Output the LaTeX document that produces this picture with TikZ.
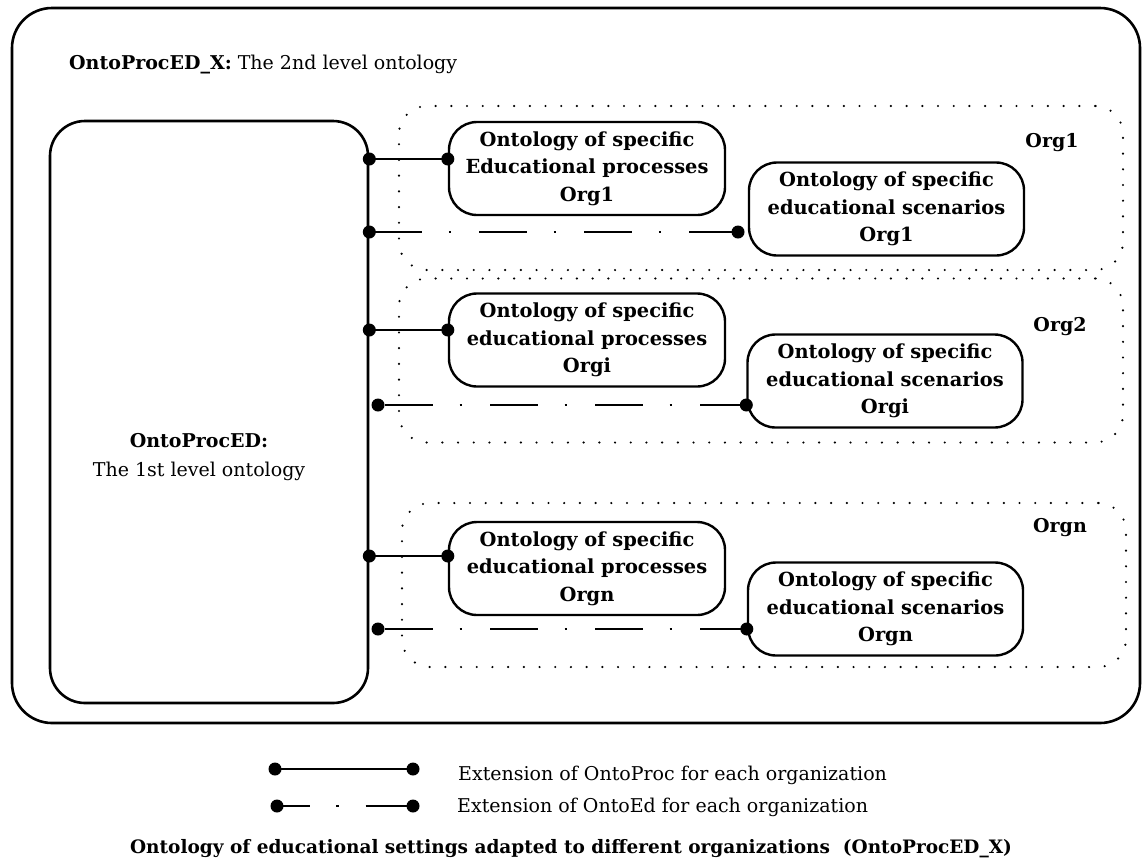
\documentclass[tikz,border=0pt]{standalone}
\usepackage{fontspec}
\setmainfont{DejaVu Serif}
\usetikzlibrary{calc}
\begin{document}
\begin{tikzpicture}[x=1pt,y=-1pt,
  frame/.style={draw, line width=2.6pt, inner sep=0pt},
  orgbox/.style={draw, line width=2.4pt, dash pattern=on 0pt off 15.7pt, line cap=round,
    rounded corners=28pt, minimum width=724pt, minimum height=164pt, inner sep=0pt},
  onbox/.style={draw, line width=2.4pt, rounded corners=28pt, minimum height=93pt,
    inner sep=0pt, align=center, font=\bfseries\fontsize{19.4}{27.5}\selectfont},
  procbox/.style={onbox, minimum width=276pt},
  scenbox/.style={onbox, minimum width=275pt},
  orglabel/.style={font=\bfseries\fontsize{19}{22}\selectfont},
  plain/.style={inner sep=0pt, font=\fontsize{19}{22}\selectfont},
  procline/.style={line width=2.8pt},
  edline/.style={line width=2.8pt, dash pattern=on 48pt off 26.5pt on 2.5pt off 28pt},
  dot/.style={fill=black},
]
\useasboundingbox (0,0) rectangle (1142,863);

% outer frame: the 2nd level ontology
\node[frame, rounded corners=40pt, minimum width=1128pt, minimum height=715pt] (outer) at (576,365.5) {};
\node[plain, anchor=west] (title) at (69,65) {\textbf{OntoProcED\_X:} The 2nd level ontology};

% the 1st level ontology
\node[frame, rounded corners=35pt, minimum width=318pt, minimum height=582pt] (onto) at (209,412) {};
\node[plain, align=center, font=\fontsize{19}{29}\selectfont] (ontotext) at (199,457) {\textbf{OntoProcED:}\\The 1st level ontology};

% organisation groups
\node[orgbox] (g1) at (761,188) {};
\node[orgbox] (g2) at (761,360.5) {};
\node[orgbox] (g3) at (764,585) {};
\node[orglabel] (o1) at (1052,143) {Org1};
\node[orglabel] (o2) at (1060,327) {Org2};
\node[orglabel] (o3) at (1060,528) {Orgn};

% specific ontologies
\node[procbox] (p1) at (587,168.5) {Ontology of specific\\Educational processes\\Org1};
\node[scenbox] (s1) at (886.5,209) {Ontology of specific\\educational scenarios\\Org1};
\node[procbox] (p2) at (587,340) {Ontology of specific\\educational processes\\Orgi};
\node[scenbox] (s2) at (885,381) {Ontology of specific\\educational scenarios\\Orgi};
\node[procbox] (p3) at (587,568.5) {Ontology of specific\\educational processes\\Orgn};
\node[scenbox] (s3) at (885.5,609) {Ontology of specific\\educational scenarios\\Orgn};

% connector end points
\coordinate (a1) at (onto.east |- 0,159);
\coordinate (b1) at (p1.west |- 0,159);
\coordinate (c1) at (738,232);
\coordinate (d1) at (onto.east |- c1);
\coordinate (a2) at (onto.east |- 0,330);
\coordinate (b2) at (p2.west |- 0,330);
\coordinate (d2) at (378,405);
\coordinate (c2) at (s2.west |- d2);
\coordinate (a3) at (onto.east |- 0,556);
\coordinate (b3) at (p3.west |- 0,556);
\coordinate (d3) at (378,629);
\coordinate (c3) at (s3.west |- d3);

\draw[procline] (a1) -- (b1);
\draw[procline] (a2) -- (b2);
\draw[procline] (a3) -- (b3);
\draw[edline, dash phase=100pt] (d1) -- (c1);
\draw[edline, dash phase=98pt] (d2) -- (c2);
\draw[edline, dash phase=98pt] (d3) -- (c3);
\foreach \p in {a1,b1,c1,d1,a2,b2,c2,d2,a3,b3,c3,d3}
  \fill[dot] (\p) circle (6.5pt);

% legend
\coordinate (l1a) at (275,769);
\coordinate (l1b) at (413,769);
\coordinate (l2a) at (277,806);
\coordinate (l2b) at (413,806);
\draw[procline] (l1a) -- (l1b);
\draw[line width=2.8pt, dash pattern=on 33pt off 26pt on 2.5pt off 27pt on 80pt] (l2a) -- (l2b);
\foreach \p in {l1a,l1b,l2a,l2b}
  \fill[dot] (\p) circle (6.5pt);
\node[plain, anchor=west] (t1) at (458,775) {Extension of OntoProc for each organization};
\node[plain, anchor=west] (t2) at (457,807) {Extension of OntoEd for each organization};

\node[plain, font=\bfseries\fontsize{18.5}{22}\selectfont] (caption) at (571,849) {Ontology of educational settings adapted to different organizations\ \ (OntoProcED\_X)};
\end{tikzpicture}
\end{document}
